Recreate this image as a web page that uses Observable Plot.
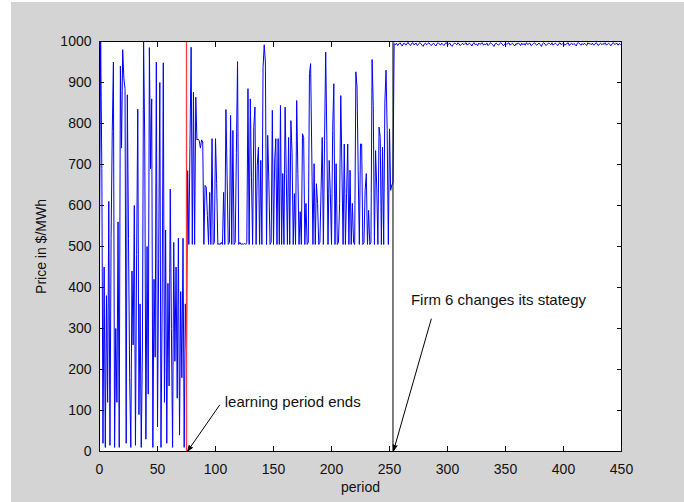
<!DOCTYPE html>
<html>
<head>
<meta charset="utf-8">
<script src="https://cdn.jsdelivr.net/npm/d3@7"></script>
<script src="https://cdn.jsdelivr.net/npm/@observablehq/plot@0.6"></script>
<style>
  html, body { margin: 0; padding: 0; background: #ffffff; }
  #panel { position: absolute; left: 11px; top: 2px; width: 673px; height: 500px; background: #d4d4d4; }
  #panel svg { display: block; }
</style>
</head>
<body>
<div id="panel"></div>
<script>
// Market clearing price per period ($/MWh)
// Learning phase, periods 0–75
const learningPrices = [
  510, 1000, 690, 20, 450, 10, 380, 120, 610, 15,
  520, 780, 950, 10, 300, 120, 560, 10, 940, 740,
  980, 910, 885, 20, 870, 520, 180, 10, 440, 260,
  600, 15, 480, 835, 90, 360, 10, 250, 1000, 755,
  30, 500, 140, 985, 690, 860, 10, 420, 230, 950,
  60, 470, 900, 10, 350, 948, 120, 540, 20, 410,
  160, 640, 300, 10, 510, 220, 450, 130, 520, 40,
  390, 180, 520, 10, 360, 240
];

// After learning, periods 76–253
const learnedPrices = [
  685, 505, 746, 986, 505, 876, 505, 864, 760, 762,
  758, 740, 760, 755, 505, 649, 645, 576, 505, 632,
  505, 763, 505, 510, 763, 653, 505, 507, 505, 510,
  505, 632, 505, 834, 669, 505, 510, 820, 505, 783,
  505, 510, 730, 951, 505, 510, 505, 507, 505, 508,
  505, 510, 885, 505, 860, 669, 505, 791, 840, 505,
  698, 742, 505, 710, 505, 937, 992, 950, 505, 771,
  657, 505, 510, 832, 505, 706, 763, 505, 763, 505,
  844, 505, 678, 505, 840, 678, 505, 766, 505, 807,
  730, 505, 629, 505, 856, 678, 505, 585, 505, 775,
  766, 505, 605, 505, 510, 922, 946, 726, 505, 702,
  505, 653, 605, 505, 510, 637, 766, 505, 758, 974,
  758, 505, 710, 629, 505, 783, 897, 505, 702, 505,
  510, 605, 868, 686, 505, 750, 505, 629, 750, 505,
  686, 505, 605, 510, 505, 926, 889, 686, 505, 750,
  750, 505, 510, 637, 678, 505, 588, 505, 510, 956,
  844, 505, 734, 645, 505, 791, 766, 505, 742, 505,
  852, 930, 783, 505, 787, 637, 650, 655
];

// After firm 6 changes its strategy, periods 254–450
const strategyPrices = [
  995, 992, 996, 990, 994, 997, 993, 989, 995, 996, 991, 994, 998, 993, 990, 995, 997, 992, 994, 996,
  990, 993, 997, 995, 991, 988, 994, 996, 992, 995, 997, 993, 990, 994, 996, 992, 989, 995, 997, 994,
  991, 996, 993, 990, 995, 997, 992, 994, 996, 991, 988, 993, 996, 995, 992, 997, 994, 990, 993, 996,
  992, 995, 997, 991, 994, 996, 993, 989, 995, 997, 992, 994, 990, 996, 993, 995, 997, 991, 994, 992,
  996, 990, 993, 997, 995, 992, 988, 994, 996, 993, 991, 995, 997, 994, 990, 992, 996, 993, 995, 997,
  991, 994, 996, 992, 989, 995, 993, 997, 994, 990, 996, 992, 995, 991, 997, 993, 994, 996, 990, 992,
  995, 997, 993, 991, 994, 996, 992, 988, 995, 997, 994, 990, 993, 996, 995, 992, 997, 991, 994, 996,
  993, 990, 995, 997, 992, 994, 996, 991, 993, 995, 997, 990, 994, 996, 992, 995, 993, 989, 996, 997,
  994, 991, 995, 992, 996, 993, 990, 997, 994, 995, 992, 996, 991, 993, 997, 995, 990, 994, 996, 992,
  995, 993, 997, 991, 994, 996, 992, 990, 995, 997, 993, 994, 996, 991, 995, 993, 992
];

// Event markers (period)
const learningEnd = 75;
const strategyChange = 253;

// Annotation texts and their anchor points in data units
const noteTexts = ["learning period ends", "Firm 6 changes its stategy"];
const noteTextX = [108, 268.5];
const noteTextY = [120, 370];
const noteTailX = [103.5, 286];
const noteTailY = [113, 323];
const noteTipX = [76, 253.5];
const noteTipY = [1, 2];

// Axis ticks
const xTicks = [0, 50, 100, 150, 200, 250, 300, 350, 400, 450];
const yTicks = [0, 100, 200, 300, 400, 500, 600, 700, 800, 900, 1000];

const prices = [...learningPrices, ...learnedPrices, ...strategyPrices];
const series = prices.map((price, period) => ({period, price}));
const notes = noteTexts.map((text, i) => ({
  text, x: noteTextX[i], y: noteTextY[i],
  x1: noteTailX[i], y1: noteTailY[i], x2: noteTipX[i], y2: noteTipY[i]
}));

// Arrows with solid (filled) heads: the head sub-path closes into a triangle
const filledHeads = (index, scales, values, dims, context, next) => {
  const g = next(index, scales, values, dims, context);
  d3.select(g).selectAll("path").attr("fill", "#000").attr("fill-rule", "nonzero");
  return g;
};

const chart = Plot.plot({
  width: 673,
  height: 500,
  marginLeft: 88,
  marginRight: 63,
  marginTop: 39,
  marginBottom: 51,
  style: {
    background: "transparent",
    fontFamily: "'Liberation Sans', Arial, sans-serif",
    fontSize: "14px",
    color: "#111"
  },
  x: {domain: [0, 450]},
  y: {domain: [0, 1000]},
  marks: [
    Plot.frame({fill: "white", stroke: null}),
    Plot.line(series, {x: "period", y: "price", stroke: "#0000ff", strokeWidth: 1}),
    Plot.ruleX([learningEnd], {stroke: "#ff3a3a", strokeWidth: 1.3}),
    Plot.ruleX([strategyChange], {stroke: "#000", strokeWidth: 1}),
    Plot.arrow(notes, {x1: "x1", y1: "y1", x2: "x2", y2: "y2", stroke: "#000", strokeWidth: 1, headLength: 9, headAngle: 40, render: filledHeads}),
    Plot.text(notes, {x: "x", y: "y", text: "text", textAnchor: "start", fontSize: 15, fill: "#111"}),
    Plot.frame({stroke: "#000", strokeWidth: 1}),
    Plot.axisX({ticks: xTicks, tickSize: -5, tickPadding: 18, tickFormat: d3.format("d"), label: "period", labelArrow: "none", labelAnchor: "center", labelOffset: 40}),
    Plot.axisX({anchor: "top", ticks: xTicks, tickSize: -5, tickFormat: () => "", label: null}),
    Plot.axisY({ticks: yTicks, tickSize: -5, tickPadding: 13, tickFormat: d3.format("d"), label: "Price in $/MWh", labelArrow: "none", labelAnchor: "center", labelOffset: 63}),
    Plot.axisY({anchor: "right", ticks: yTicks, tickSize: -5, tickFormat: () => "", label: null})
  ]
});

document.getElementById("panel").appendChild(chart);
</script>
</body>
</html>
